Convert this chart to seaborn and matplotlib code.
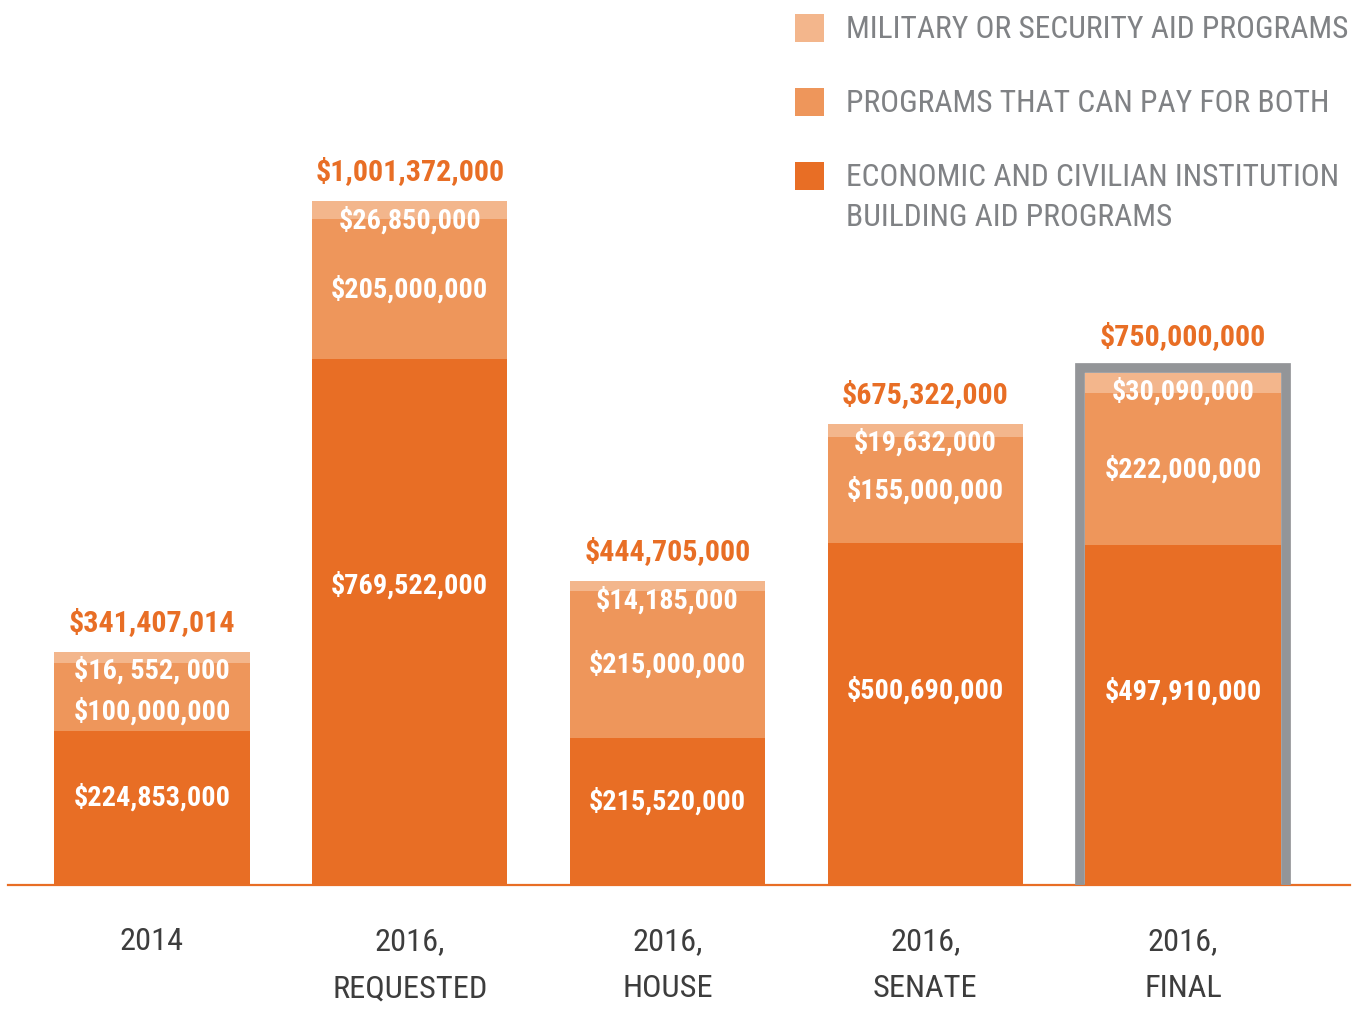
import numpy as np
import pandas as pd
import matplotlib
matplotlib.use("Agg")
import matplotlib.pyplot as plt
import seaborn as sns
from matplotlib.patches import Rectangle
from matplotlib.lines import Line2D
from matplotlib import font_manager as fm

# data (US dollars)
categories = ["2014", "2016,\nREQUESTED", "2016,\nHOUSE", "2016,\nSENATE", "2016,\nFINAL"]
economic = [224853000, 769522000, 215520000, 500690000, 497910000]
both = [100000000, 205000000, 215000000, 155000000, 222000000]
military = [16552000, 26850000, 14185000, 19632000, 30090000]
totals = [341407014, 1001372000, 444705000, 675322000, 750000000]
military_labels = ["$16, 552, 000", "$26,850,000", "$14,185,000", "$19,632,000", "$30,090,000"]
series_names = ["MILITARY OR SECURITY AID PROGRAMS",
                "PROGRAMS THAT CAN PAY FOR BOTH",
                "ECONOMIC AND CIVILIAN INSTITUTION\nBUILDING AID PROGRAMS"]

DARK = "#E86E25"
MID = "#EE965B"
LIGHT = "#F3B68C"
GREY_FRAME = "#939598"
LEGEND_GREY = "#808285"
LABEL_GREY = "#3d3d3d"
series_colors = [LIGHT, MID, DARK]
highlight = 4

sns.set_style("white")

# pick the narrowest installed face we can find
names = {f.name for f in fm.fontManager.ttflist}
stretch = "normal"
family = "Liberation Sans"
for cand in ["Roboto Condensed", "Liberation Sans Narrow", "Open Sans Condensed"]:
    if cand in names:
        family = cand
        break
else:
    if any(f.name == "DejaVu Sans" and f.stretch == "condensed" for f in fm.fontManager.ttflist):
        family, stretch = "DejaVu Sans", "condensed"
plt.rcParams["font.family"] = [family, "DejaVu Sans"]
plt.rcParams["font.stretch"] = stretch

df = pd.DataFrame({"category": categories, "economic": economic,
                   "both": both, "military": military})
df["lvl2"] = df["economic"] + df["both"]
df["lvl3"] = df["lvl2"] + df["military"]

W, H = 1357, 1009
fig = plt.figure(figsize=(W / 100, H / 100), dpi=100)
ax = fig.add_axes([8 / W, 124 / H, 1342 / W, 885 / H])

bar_w = 0.757
for col, c in [("lvl3", LIGHT), ("lvl2", MID), ("economic", DARK)]:
    sns.barplot(data=df, x="category", y=col, color=c, saturation=1,
                width=bar_w, linewidth=0, order=categories, ax=ax)

xmin, xmax = -0.5587, 4.648
ymax = 885 / 0.683e-6
ax.set_xlim(xmin, xmax)
ax.set_ylim(0, ymax)
pxx = 1342 / (xmax - xmin)
pxy = 885 / ymax

sns.despine(ax=ax, left=True)
ax.spines["bottom"].set_color(DARK)
ax.spines["bottom"].set_linewidth(1.6)
ax.set_yticks([])
ax.set_xlabel("")
ax.set_ylabel("")
ax.tick_params(axis="x", length=0, pad=30)
ticklabels = ax.get_xticklabels()
for t in ticklabels:
    t.set_fontsize(23)
    t.set_color(LABEL_GREY)
    t.set_linespacing(1.8)

# frame around the final bar
fx0 = highlight - bar_w / 2 - 5 / pxx
fx1 = highlight + bar_w / 2 + 5 / pxx
top = df["lvl3"].iloc[highlight]
fy1 = top + 4.5 / pxy
ax.add_line(Line2D([fx0, fx0, fx1, fx1], [0, fy1, fy1, 0], color=GREY_FRAME,
                   lw=7, solid_joinstyle="miter", solid_capstyle="butt", zorder=3, clip_on=False))

# value labels
total_txt, inner_txt = [], []
for i in range(len(categories)):
    top = df["lvl3"].iloc[i]
    gap = 28 if i == highlight else 21
    total_txt.append(ax.annotate(f"${totals[i]:,}", (i, top), xytext=(0, gap),
                                 textcoords="offset pixels", ha="center", va="baseline",
                                 fontsize=24, fontweight="bold", color=DARK, zorder=5))
    inner_txt.append(ax.annotate(military_labels[i], (i, top), xytext=(0, -19),
                                 textcoords="offset pixels", ha="center", va="center",
                                 fontsize=22, fontweight="bold", color="white", zorder=5))
    mid_off = max((top - (economic[i] + both[i] / 2)) * pxy, 60)
    inner_txt.append(ax.annotate(f"${both[i]:,}", (i, top), xytext=(0, -mid_off),
                                 textcoords="offset pixels", ha="center", va="center",
                                 fontsize=22, fontweight="bold", color="white", zorder=5))
    inner_txt.append(ax.annotate(f"${economic[i]:,}", (i, 0.57 * economic[i]), ha="center",
                                 va="center", fontsize=22, fontweight="bold", color="white", zorder=5))

# legend
legend_txt = []
for k, (name, c) in enumerate(zip(series_names, series_colors)):
    ytop = 14 + 74 * k
    fig.add_artist(Rectangle((795 / W, 1 - (ytop + 28) / H), 29 / W, 28 / H,
                             transform=fig.transFigure, color=c, lw=0))
    legend_txt.append(fig.text(846 / W, 1 - (ytop + 1) / H, name, ha="left", va="top",
                               fontsize=22, color=LEGEND_GREY, linespacing=1.5))

# shrink/grow each text group so its widest member matches the reference width
fig.canvas.draw()
rend = fig.canvas.get_renderer()


def fit(texts, ref, target_px):
    w = ref.get_window_extent(rend).width
    s = target_px / w
    for t in texts:
        t.set_fontsize(t.get_fontsize() * s)


fit(total_txt, total_txt[1], 190)
fit(inner_txt, inner_txt[4], 157)
fit(legend_txt, legend_txt[0], 502)
fit(ticklabels, ticklabels[1], 156)

fig.savefig("out.png", dpi=100)
